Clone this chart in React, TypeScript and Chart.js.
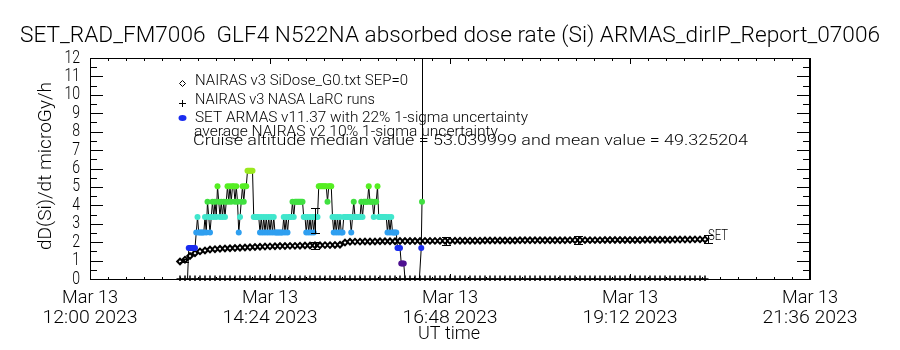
import React, { useEffect, useRef } from "react";
import { Chart, registerables } from "chart.js";

Chart.register(...registerables);

// ---------- text ----------
const TITLE = "SET_RAD_FM7006  GLF4 N522NA absorbed dose rate (Si) ARMAS_dirIP_Report_07006";
const Y_TITLE = "dD(Si)/dt microGy/h";
const X_TITLE = "UT time";
const LEGEND_LINES = [
  "NAIRAS v3 SiDose_G0.txt SEP=0",
  "NAIRAS v3 NASA LaRC runs",
  "SET ARMAS v11.37 with 22% 1-sigma uncertainty",
  "average NAIRAS v2 10% 1-sigma uncertainty",
  "Cruise altitude median value = 53.039999 and mean value = 49.325204",
];
const END_LABEL = "SET";

// ---------- axes (minutes after 12:00 UT) ----------
const X_MIN = 0;
const X_MAX = 576;
const xTickMinutes = [0, 144, 288, 432, 576];
const xTickDates = ["Mar 13", "Mar 13", "Mar 13", "Mar 13", "Mar 13"];
const xTickTimes = ["12:00 2023", "14:24 2023", "16:48 2023", "19:12 2023", "21:36 2023"];
const X_MINOR = 10;
const Y_MIN = 0;
const Y_MAX = 12;
const yTickValues = [0, 1, 2, 3, 4, 5, 6, 7, 8, 9, 10, 11, 12];
const Y_MINOR = 2;

// ---------- NAIRAS v3 SiDose_G0 (diamonds) ----------
const nairasMinutes = [
  72, 76, 80, 84, 88, 92, 96, 100, 104, 108, 112, 116, 120, 124, 128, 132, 136, 140, 144, 148,
  152, 156, 160, 164, 168, 172, 176, 180, 184, 188, 192, 196, 200, 204, 208, 212, 216, 220, 224, 228,
  232, 236, 240, 244, 248, 252, 256, 260, 264, 268, 272, 276, 280, 284, 288, 292, 296, 300, 304, 308,
  312, 316, 320, 324, 328, 332, 336, 340, 344, 348, 352, 356, 360, 364, 368, 372, 376, 380, 384, 388,
  392, 396, 400, 404, 408, 412, 416, 420, 424, 428, 432, 436, 440, 444, 448, 452, 456, 460, 464, 468,
  472, 476, 480, 484, 488, 492,
];
const nairasDose = [
  0.95, 1.05, 1.25, 1.4, 1.5, 1.55, 1.6, 1.62, 1.64, 1.66, 1.67, 1.68, 1.7, 1.71, 1.72, 1.74, 1.75, 1.76, 1.77, 1.78,
  1.79, 1.79, 1.8, 1.8, 1.81, 1.82, 1.82, 1.83, 1.83, 1.84, 1.84, 1.85, 1.86, 1.98, 2.02, 2.03, 2.03, 2.04, 2.04, 2.04,
  2.05, 2.05, 2.05, 2.05, 2.06, 2.06, 2.06, 2.06, 2.06, 2.07, 2.07, 2.07, 2.07, 2.07, 2.07, 2.08, 2.08, 2.08, 2.08, 2.08,
  2.08, 2.09, 2.09, 2.09, 2.09, 2.09, 2.09, 2.09, 2.1, 2.1, 2.1, 2.1, 2.1, 2.1, 2.1, 2.1, 2.1, 2.1, 2.11, 2.11,
  2.11, 2.11, 2.11, 2.11, 2.11, 2.12, 2.12, 2.12, 2.12, 2.12, 2.12, 2.12, 2.12, 2.13, 2.13, 2.13, 2.13, 2.13, 2.13, 2.14,
  2.14, 2.14, 2.14, 2.15, 2.15, 2.15,
];

// ---------- NAIRAS v3 NASA LaRC runs (plus) ----------
const larcDose = [
  0, 0, 0, 0, 0, 0, 0, 0, 0, 0, 0, 0, 0, 0, 0, 0, 0, 0, 0, 0,
  0, 0, 0, 0, 0, 0, 0, 0, 0, 0, 0, 0, 0, 0, 0, 0, 0, 0, 0, 0,
  0, 0, 0, 0, 0, 0, 0, 0, 0, 0, 0, 0, 0, 0, 0, 0, 0, 0, 0, 0,
  0, 0, 0, 0, 0, 0, 0, 0, 0, 0, 0, 0, 0, 0, 0, 0, 0, 0, 0, 0,
  0, 0, 0, 0, 0, 0, 0, 0, 0, 0, 0, 0, 0, 0, 0, 0, 0, 0, 0, 0,
  0, 0, 0, 0, 0, 0,
];

// ---------- SET ARMAS v11.37 (colored by value) ----------
const armasMinutes = [
  78, 79, 80, 81, 82, 83, 84, 85, 86, 87, 88, 89, 90, 91, 92, 93, 94, 95, 96, 97,
  98, 99, 100, 101, 102, 103, 104, 105, 106, 107, 108, 109, 110, 111, 112, 113, 114, 115, 116, 117,
  118, 119, 120, 121, 122, 123, 124, 125, 126, 127, 128, 129, 130, 131, 132, 133, 134, 135, 136, 137,
  138, 139, 140, 141, 142, 143, 144, 145, 146, 147, 148, 149, 150, 151, 152, 153, 154, 155, 156, 157,
  158, 159, 160, 161, 162, 163, 164, 165, 166, 167, 168, 169, 170, 171, 172, 173, 174, 175, 176, 177,
  178, 179, 180, 181, 182, 183, 184, 185, 186, 187, 188, 189, 190, 191, 192, 193, 194, 195, 196, 197,
  198, 199, 200, 201, 202, 203, 204, 205, 206, 207, 208, 209, 210, 211, 212, 213, 214, 215, 216, 217,
  218, 219, 220, 221, 222, 223, 224, 225, 226, 227, 228, 229, 230, 231, 232, 233, 234, 235, 236, 237,
  238, 239, 240, 241, 242, 243, 244, 245, 246, 247, 248, 249, 250, 251, 252, 256, 260, 263.5, 265, 265.6,
  266,
];
const armasDose = [
  0, 1.68, 1.68, 1.68, 1.68, 1.68, 1.68, 2.52, 3.36, 2.52, 2.52, 2.52, 2.52, 2.52, 3.36, 2.52, 4.2, 3.36, 2.52, 3.36,
  4.2, 3.36, 4.2, 3.36, 5.04, 4.2, 3.36, 4.2, 3.36, 4.2, 3.36, 4.2, 5.04, 4.2, 5.04, 4.2, 5.04, 5.04, 4.2, 5.04,
  4.2, 2.52, 3.36, 4.2, 5.04, 4.2, 5.04, 5.04, 5.88, 5.88, 5.88, 5.88, 5.88, 3.36, 3.36, 3.36, 3.36, 3.36, 2.52, 3.36,
  2.52, 3.36, 2.52, 3.36, 2.52, 3.36, 2.52, 3.36, 2.52, 3.36, 2.52, 2.52, 2.52, 2.52, 2.52, 2.52, 2.52, 3.36, 2.52, 3.36,
  2.52, 3.36, 3.36, 3.36, 4.2, 3.36, 4.2, 4.2, 4.2, 4.2, 4.2, 4.2, 4.2, 3.36, 3.36, 2.52, 3.36, 2.52, 3.36, 2.52,
  3.36, 2.52, 3.36, 3.36, 3.36, 5.04, 5.04, 5.04, 5.04, 5.04, 5.04, 5.04, 4.2, 5.04, 5.04, 5.04, 3.36, 2.52, 3.36, 2.52,
  3.36, 2.52, 3.36, 2.52, 2.52, 3.36, 3.36, 3.36, 3.36, 3.36, 3.36, 2.52, 3.36, 4.2, 3.36, 3.36, 3.36, 3.36, 3.36, 4.2,
  3.36, 4.2, 4.2, 4.2, 4.2, 5.04, 4.2, 4.2, 4.2, 3.36, 4.2, 4.2, 5.04, 3.36, 3.36, 3.36, 3.36, 3.36, 3.36, 3.36,
  2.52, 3.36, 2.52, 3.36, 2.52, 2.52, 2.52, 2.52, 1.68, 1.68, 1.68, 0.84, 0.84, 0.84, 0, 0, 0, 0, 1.68, 4.2,
  30,
];
const armasLevels = [0, 0.84, 1.68, 2.52, 3.36, 4.2, 5.04, 5.88];
const armasColors = ["#000000", "#4e1090", "#1a2cf0", "#2f9ff0", "#40e6cc", "#40e040", "#55ee22", "#9ae81e"];

// ---------- error bars ----------
const nairasErrMinutes = [75, 180, 285, 390, 494];
const nairasErrDose = [1.0, 1.83, 2.06, 2.1, 2.15];
const NAIRAS_ERR_FRAC = 0.1;
const armasErrMinutes = [180];
const armasErrDose = [3.17];
const ARMAS_ERR_FRAC = 0.22;

const FONT = 'Roboto, "Liberation Sans", "DejaVu Sans", Arial, sans-serif';
const WEIGHT = 300;

function colorFor(v: number): string {
  let best = 0;
  for (let i = 1; i < armasLevels.length; i++) {
    if (Math.abs(armasLevels[i] - v) < Math.abs(armasLevels[best] - v)) best = i;
  }
  return armasColors[best];
}

function fitText(ctx: CanvasRenderingContext2D, text: string, x: number, y: number, width: number, size: number, align: string) {
  ctx.save();
  ctx.font = `${WEIGHT} ${size}px ${FONT}`;
  ctx.textBaseline = "middle";
  ctx.textAlign = "left";
  const w = ctx.measureText(text).width || width;
  const left = align === "left" ? x : align === "center" ? x - width / 2 : x - width;
  ctx.translate(left, y);
  ctx.scale(width / w, 1);
  ctx.fillText(text, 0, 0);
  ctx.restore();
}

function scaledText(ctx: CanvasRenderingContext2D, text: string, x: number, y: number, size: number, sx: number) {
  ctx.save();
  ctx.font = `${WEIGHT} ${size}px ${FONT}`;
  ctx.textBaseline = "middle";
  ctx.textAlign = "left";
  const w = ctx.measureText(text).width * sx;
  ctx.translate(x - w, y);
  ctx.scale(sx, 1);
  ctx.fillText(text, 0, 0);
  ctx.restore();
}

function ticksInward(chart: any) {
  const ctx = chart.ctx as CanvasRenderingContext2D;
  const xs = chart.scales.x;
  const ys = chart.scales.y;
  const L = Math.round(xs.getPixelForValue(X_MIN));
  const R = Math.round(xs.getPixelForValue(X_MAX)) - 1;
  const T = Math.round(ys.getPixelForValue(Y_MAX));
  const B = Math.round(ys.getPixelForValue(Y_MIN));
  ctx.save();
  ctx.fillStyle = "#000000";
  ctx.fillRect(L, T, R - L + 1, 1);
  ctx.fillRect(L, B, R - L + 1, 1);
  ctx.fillRect(L, T, 1, B - T + 1);
  ctx.fillRect(R, T, 1, B - T + 1);
  for (let i = 0; i < xTickMinutes.length; i++) {
    const px = Math.min(Math.round(xs.getPixelForValue(xTickMinutes[i])), R);
    ctx.fillRect(px, B - 5, 1, 6);
    ctx.fillRect(px, T, 1, 6);
    if (i < xTickMinutes.length - 1) {
      const step = (xTickMinutes[i + 1] - xTickMinutes[i]) / X_MINOR;
      for (let k = 1; k < X_MINOR; k++) {
        const mx = Math.round(xs.getPixelForValue(xTickMinutes[i] + step * k));
        ctx.fillRect(mx, B - 2, 1, 3);
        ctx.fillRect(mx, T, 1, 3);
      }
    }
  }
  for (let i = 0; i < yTickValues.length; i++) {
    const py = Math.round(ys.getPixelForValue(yTickValues[i]));
    ctx.fillRect(L, py, 13, 1);
    ctx.fillRect(R - 12, py, 13, 1);
    if (i < yTickValues.length - 1) {
      const step = (yTickValues[i + 1] - yTickValues[i]) / Y_MINOR;
      for (let k = 1; k < Y_MINOR; k++) {
        const my = Math.round(ys.getPixelForValue(yTickValues[i] + step * k));
        ctx.fillRect(L, my, 7, 1);
        ctx.fillRect(R - 6, my, 7, 1);
      }
    }
  }
  ctx.restore();
}

function errorBar(ctx: CanvasRenderingContext2D, x: number, yTop: number, yBot: number, half: number) {
  const px = Math.round(x);
  const t = Math.round(yTop);
  const b = Math.round(yBot);
  ctx.fillRect(px, t, 1, b - t + 1);
  ctx.fillRect(px - half, t, 2 * half + 1, 1);
  ctx.fillRect(px - half, b, 2 * half + 1, 1);
}

const idlPlugin = {
  id: "idlFrame",
  afterDraw(chart: any) {
    const ctx = chart.ctx as CanvasRenderingContext2D;
    const xs = chart.scales.x;
    const ys = chart.scales.y;
    ticksInward(chart);

    ctx.save();
    ctx.fillStyle = "#000000";
    nairasErrMinutes.forEach((m, i) => {
      const v = nairasErrDose[i];
      errorBar(ctx, xs.getPixelForValue(m), ys.getPixelForValue(v * (1 + NAIRAS_ERR_FRAC)), ys.getPixelForValue(v * (1 - NAIRAS_ERR_FRAC)), 4);
    });
    armasErrMinutes.forEach((m, i) => {
      const v = armasErrDose[i];
      errorBar(ctx, xs.getPixelForValue(m), ys.getPixelForValue(v * (1 + ARMAS_ERR_FRAC)), ys.getPixelForValue(v * (1 - ARMAS_ERR_FRAC)), 4);
    });

    const lastM = nairasMinutes[nairasMinutes.length - 1];
    const lastV = nairasDose[nairasDose.length - 1];
    fitText(ctx, END_LABEL, xs.getPixelForValue(lastM) + 3, ys.getPixelForValue(lastV) - 3, 20, 15, "left");

    xTickMinutes.forEach((m, i) => {
      const px = xs.getPixelForValue(m);
      fitText(ctx, xTickDates[i], px, 298, 56, 18, "center");
      fitText(ctx, xTickTimes[i], px, 318, 95, 18, "center");
    });
    yTickValues.forEach((v) => {
      scaledText(ctx, String(v), 80, ys.getPixelForValue(v), 18, 0.78);
    });

    fitText(ctx, TITLE, 20, 36, 860, 22, "left");
    fitText(ctx, X_TITLE, 449, 334, 62, 18, "center");
    ctx.save();
    ctx.translate(46, 166);
    ctx.rotate(-Math.PI / 2);
    fitText(ctx, Y_TITLE, 0, 0, 168, 19, "center");
    ctx.restore();

    fitText(ctx, LEGEND_LINES[0], 195, 81, 213, 14, "left");
    fitText(ctx, LEGEND_LINES[1], 195, 100, 180, 14, "left");
    fitText(ctx, LEGEND_LINES[2], 195, 118, 333, 14, "left");
    fitText(ctx, LEGEND_LINES[3], 194, 132, 304, 14, "left");
    fitText(ctx, LEGEND_LINES[4], 193, 141, 555, 14, "left");

    ctx.strokeStyle = "#000000";
    ctx.lineWidth = 1;
    ctx.beginPath();
    ctx.moveTo(182.5, 80.5);
    ctx.lineTo(185.5, 83.5);
    ctx.lineTo(182.5, 86.5);
    ctx.lineTo(179.5, 83.5);
    ctx.closePath();
    ctx.stroke();
    ctx.fillRect(182, 100, 1, 7);
    ctx.fillRect(179, 103, 7, 1);
    ctx.fillStyle = armasColors[2];
    ctx.beginPath();
    ctx.ellipse(182.5, 118, 4, 3, 0, 0, Math.PI * 2);
    ctx.fill();
    ctx.restore();
  },
};

const frameAxis = (position: string, min: number, max: number) => ({
  type: "linear",
  position,
  min,
  max,
  display: true,
  ticks: { display: false },
  grid: { display: false, drawOnChartArea: false, drawTicks: false },
  border: { display: true, color: "#000000", width: 1 },
  title: { display: false },
});

export default function App() {
  const ref = useRef<HTMLCanvasElement>(null);
  useEffect(() => {
    const canvas = ref.current;
    if (!canvas) return;
    const chart = new Chart(canvas, {
      type: "line",
      data: {
        datasets: [
          {
            xAxisID: "x",
            yAxisID: "y",
            data: armasMinutes.map((m, i) => ({ x: m, y: armasDose[i] })),
            borderColor: "#000",
            borderWidth: 1,
            pointStyle: "circle",
            pointRadius: (c: any) => (c.parsed && c.parsed.y > 0 ? 3 : 0),
            pointBorderWidth: 0,
            pointBackgroundColor: (c: any) => colorFor(c.parsed ? c.parsed.y : 0),
          },
          {
            xAxisID: "x",
            yAxisID: "y",
            data: nairasMinutes.map((m, i) => ({ x: m, y: larcDose[i] })),
            showLine: false,
            pointStyle: "cross",
            pointRadius: 3.5,
            pointBorderColor: "#000",
            pointBorderWidth: 1.5,
            clip: 2,
          },
          {
            xAxisID: "x",
            yAxisID: "y",
            data: nairasMinutes.map((m, i) => ({ x: m, y: nairasDose[i] })),
            borderColor: "#000",
            borderWidth: 1,
            pointStyle: "rectRot",
            pointRadius: 2.8,
            pointBorderColor: "#000",
            pointBorderWidth: 2,
            pointBackgroundColor: "#fff",
          },
        ],
      },
      options: {
        responsive: false,
        animation: false,
        devicePixelRatio: 1,
        layout: { padding: { left: 90, right: 90, top: 58, bottom: 71 } },
        plugins: { legend: { display: false }, tooltip: { enabled: false } },
        scales: {
          x: frameAxis("bottom", X_MIN, X_MAX),
          xTop: frameAxis("top", X_MIN, X_MAX),
          y: frameAxis("left", Y_MIN, Y_MAX),
          yRight: frameAxis("right", Y_MIN, Y_MAX),
        },
      },
      plugins: [idlPlugin],
    } as any);
    return () => chart.destroy();
  }, []);
  return (
    <div style={{ position: "absolute", left: 0, top: 0, width: 900, height: 350, background: "#fff" }}>
      <canvas ref={ref} width={900} height={350} style={{ display: "block", width: 900, height: 350 }} />
    </div>
  );
}
